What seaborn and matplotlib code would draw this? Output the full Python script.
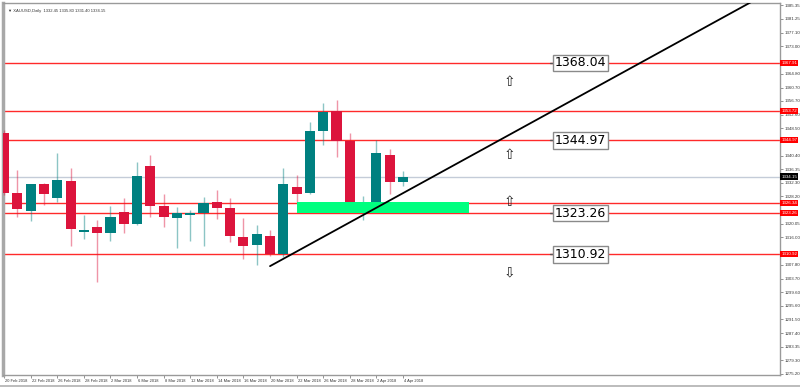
import matplotlib
matplotlib.use("Agg")
import matplotlib.pyplot as plt
import matplotlib.transforms as mtrans
import numpy as np
import pandas as pd
import seaborn as sns

# ---------------- data ----------------
dates = ["20 Feb 2018", "21 Feb 2018", "22 Feb 2018", "23 Feb 2018", "26 Feb 2018",
         "27 Feb 2018", "28 Feb 2018", "1 Mar 2018", "2 Mar 2018", "5 Mar 2018",
         "6 Mar 2018", "7 Mar 2018", "8 Mar 2018", "9 Mar 2018", "12 Mar 2018",
         "13 Mar 2018", "14 Mar 2018", "15 Mar 2018", "16 Mar 2018", "19 Mar 2018",
         "20 Mar 2018", "21 Mar 2018", "22 Mar 2018", "23 Mar 2018", "26 Mar 2018",
         "27 Mar 2018", "28 Mar 2018", "29 Mar 2018", "2 Apr 2018", "3 Apr 2018",
         "4 Apr 2018"]
opens = [1347.14, 1329.23, 1323.86, 1331.92, 1327.74, 1332.81, 1317.59, 1319.08,
         1317.29, 1323.56, 1319.98, 1337.29, 1325.35, 1321.77, 1322.66, 1323.26,
         1326.54, 1324.75, 1316.10, 1313.71, 1316.39, 1311.02, 1331.02, 1329.23,
         1347.74, 1353.71, 1344.75, 1324.75, 1325.95, 1340.57, 1332.45]
highs = [1348.04, 1336.10, 1331.92, 1332.10, 1341.17, 1336.69, 1322.66, 1321.17,
         1325.35, 1327.74, 1338.48, 1340.57, 1328.93, 1325.05, 1324.16, 1328.04,
         1330.13, 1327.74, 1321.77, 1319.68, 1318.19, 1336.69, 1334.60, 1350.42,
         1356.10, 1356.99, 1347.14, 1328.34, 1345.05, 1342.36, 1335.80]
lows = [1328.63, 1322.07, 1320.87, 1325.65, 1326.54, 1313.41, 1315.50, 1302.66,
        1314.90, 1317.29, 1319.60, 1322.07, 1319.08, 1312.81, 1314.90, 1313.41,
        1321.47, 1314.60, 1309.53, 1307.74, 1310.42, 1310.12, 1326.54, 1329.00,
        1343.56, 1339.98, 1323.56, 1321.17, 1325.60, 1328.93, 1331.40]
closes = [1329.23, 1324.45, 1331.92, 1328.93, 1333.11, 1318.48, 1318.19, 1317.29,
          1322.07, 1319.98, 1334.31, 1325.35, 1322.07, 1323.26, 1323.26, 1326.25,
          1324.75, 1316.39, 1313.41, 1316.99, 1311.02, 1331.92, 1328.93, 1347.74,
          1353.41, 1344.75, 1325.05, 1325.05, 1341.17, 1332.51, 1334.15]

level_lines = [1368.04, 1353.72, 1344.97, 1326.34, 1323.26, 1310.92]
boxed_levels = [1368.04, 1344.97, 1323.26, 1310.92]
current_price = 1334.15

zone_x = [22, 35]
zone_y = [1323.26, 1326.54]

trend_x = [20, 58]
trend_y = [1307.4, 1390.2]

up_arrow_y = [1362.4, 1340.6, 1326.5]
down_arrow_y = [1305.6]
arrow_x = 38

ytick_values = [1385.35, 1381.25, 1377.10, 1373.00, 1368.95, 1364.80,
                1360.70, 1356.70, 1352.60, 1348.50, 1344.45, 1340.40,
                1336.35, 1332.30, 1328.20, 1324.15, 1320.05, 1316.00,
                1311.95, 1307.80, 1303.70, 1299.60, 1295.60, 1291.50,
                1287.40, 1283.35, 1279.30, 1275.20]
# scale labels hidden behind the coloured price boxes in the reference
hidden_ticks = [1368.95, 1344.45, 1324.15, 1311.95]
header = "\u25BC XAUUSD,Daily  1332.45 1335.80 1331.40 1334.15"

# ---------------- style ----------------
sns.set_theme(style="white")
plt.rcParams["font.family"] = ["Liberation Sans", "DejaVu Sans"]

df = pd.DataFrame({"date": dates, "open": opens, "high": highs,
                   "low": lows, "close": closes})
df["i"] = np.arange(len(df))
df["bull"] = df["close"] >= df["open"]

TEAL = "#008080"
RED = "#dc143c"
LINE_RED = "#ff2a2a"

fig = plt.figure(figsize=(8.0, 3.88), dpi=100)
ax = fig.add_axes([3 / 800, 13 / 388, 777 / 800, 372 / 388])

# wicks
for _, r in df.iterrows():
    c = TEAL if r["bull"] else RED
    ax.vlines(r["i"], r["low"], r["high"], color=c, lw=1.0, alpha=0.45, zorder=3)

# bodies
body_bottom = np.minimum(df["open"], df["close"])
body_h = np.maximum((df["close"] - df["open"]).abs(), 0.35)
colors = [TEAL if b else RED for b in df["bull"]]
ax.bar(df["i"], body_h, bottom=body_bottom, width=0.76, color=colors,
       edgecolor="none", zorder=4)

# horizontal lines
for lv in level_lines:
    ax.axhline(lv, color=LINE_RED, lw=1.0, zorder=2)
ax.axhline(current_price, color="#c4ccd8", lw=1.0, zorder=1)

# green zone
ax.fill_between(zone_x, zone_y[0], zone_y[1], color="#00ff7f", lw=0, zorder=5)

# trend line
sns.lineplot(x=trend_x, y=trend_y, ax=ax, color="black", lw=1.3, zorder=6)

# boxed price labels on the lines
for lv in boxed_levels:
    ax.text(41.4, lv, f"{lv:.2f}", fontsize=9, color="black", va="center",
            ha="left", family=["DejaVu Sans"], zorder=8,
            bbox=dict(boxstyle="square,pad=0.15", fc="white", ec="#8a8a8a", lw=1.0))
    ax.plot([41.05, 41.4], [lv, lv], color="#555555", lw=1.0, zorder=7)

# arrows
for y in up_arrow_y:
    ax.text(arrow_x, y, "\u21E7", fontsize=10, ha="center", va="center",
            color="#222222", family=["DejaVu Sans"], zorder=8)
for y in down_arrow_y:
    ax.text(arrow_x, y, "\u21E9", fontsize=10, ha="center", va="center",
            color="#222222", family=["DejaVu Sans"], zorder=8)

# axes limits
ax.set_xlim(-0.08, 58.35)
ax.set_ylim(1274.90, 1385.95)

# y ticks on the right
ax.yaxis.tick_right()
ax.set_yticks(ytick_values)
ax.set_yticklabels(["" if v in hidden_ticks else f"{v:.2f}" for v in ytick_values])
ax.tick_params(axis="y", which="both", direction="out", length=2, width=0.6,
               color="#808080", labelsize=3.2, labelcolor="#333333", pad=1,
               right=True, left=False)

# x ticks
xt = list(range(0, 31, 2))
ax.set_xticks(xt)
ax.set_xticklabels([dates[i] for i in xt])
ax.tick_params(axis="x", which="both", direction="out", length=2, width=0.6,
               color="#808080", labelsize=2.9, labelcolor="#333333", pad=1,
               bottom=True)
offset = mtrans.ScaledTranslation(1 / 100, 0, fig.dpi_scale_trans)
for lab in ax.get_xticklabels():
    lab.set_ha("left")
    lab.set_transform(lab.get_transform() + offset)

ax.grid(False)
for side in ["top", "right", "bottom"]:
    ax.spines[side].set_color("#9a9a9a")
    ax.spines[side].set_linewidth(1.0)
ax.spines["left"].set_color("#a8a8a8")
ax.spines["left"].set_linewidth(2.5)

# colored price boxes on the right scale
btrans = mtrans.blended_transform_factory(ax.transAxes, ax.transData)
for lv in level_lines:
    shown = {1368.04: "1367.91"}.get(lv, f"{lv:.2f}")
    ax.text(1.0015, lv, shown, transform=btrans, fontsize=3.2, color="white",
            va="center", ha="left", zorder=10, clip_on=False,
            bbox=dict(boxstyle="square,pad=0.25", fc="#ff0000", ec="none"))
ax.text(1.0015, current_price, f"{current_price:.2f}", transform=btrans,
        fontsize=3.2, color="white", va="center", ha="left", zorder=10,
        clip_on=False, bbox=dict(boxstyle="square,pad=0.25", fc="#000000", ec="none"))

# header
ax.text(0.006, 0.985, header, transform=ax.transAxes, fontsize=3.0,
        color="#333333", va="top", ha="left", zorder=9)

# bottom scroll line
fig.add_artist(plt.Line2D([0, 1], [2.5 / 388, 2.5 / 388], color="#b0b0b0", lw=1.2,
                          transform=fig.transFigure))

fig.savefig("out.png", dpi=100)
